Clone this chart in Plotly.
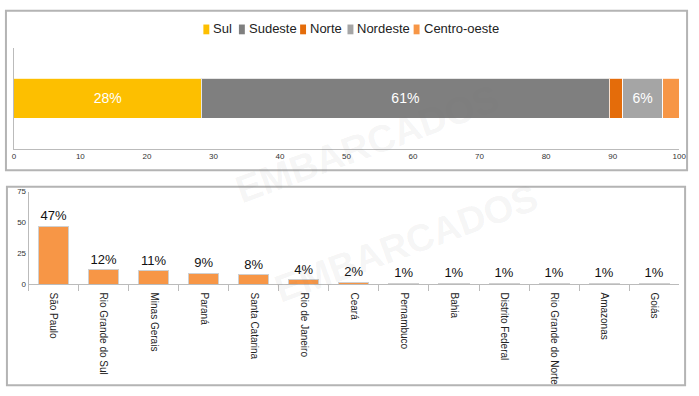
import plotly.graph_objects as go

# ---- data ----
regions = ["Sul", "Sudeste", "Norte", "Nordeste", "Centro-oeste"]
region_values = [28.2, 61.3, 2.0, 6.0, 2.5]
region_colors = ["#FDBF00", "#7F7F7F", "#E46C0A", "#A5A5A5", "#F79646"]

states = ["São Paulo", "Rio Grande do Sul", "Minas Gerais", "Paraná", "Santa Catarina",
          "Rio de Janeiro", "Ceará", "Pernambuco", "Bahia", "Distrito Federal",
          "Rio Grande do Norte", "Amazonas", "Goiás"]
state_values = [47, 12, 11, 9, 8, 4, 2, 1, 1, 1, 1, 1, 1]

x_ticks = list(range(0, 101, 10))
y_ticks = [0, 25, 50, 75]

W, H = 699, 396
def px(x): return x / W
def py(y): return 1 - y / H

FONT = "Liberation Sans, Arial, sans-serif"

# custom compact legend layout (pixel x of each swatch)
legend_x = [204, 240, 302, 350, 417]

fig = go.Figure()

for name, val, col in zip(regions, region_values, region_colors):
    fig.add_trace(go.Bar(
        x=[val], y=["Regiões"], name=name, orientation="h",
        marker=dict(color=col, line=dict(color="rgba(255,255,255,0.8)", width=1)),
        text=[f"{round(val)}%" if val >= 5 else ""],
        textposition="inside", insidetextanchor="middle",
        textfont=dict(color="white", size=14, family=FONT),
        width=0.4, xaxis="x", yaxis="y", showlegend=False,
    ))

fig.add_trace(go.Bar(
    x=states, y=state_values, name="Estados",
    marker=dict(color="#F79646", line=dict(color="#D0D0D0", width=1)),
    text=[f"{v}%" for v in state_values], textposition="outside",
    textfont=dict(color="#111", size=13, family=FONT),
    width=0.6, cliponaxis=False, xaxis="x2", yaxis="y2", showlegend=False,
))

shapes = [
    dict(type="rect", xref="paper", yref="paper", x0=px(4), x1=px(694),
         y0=py(170), y1=py(7), line=dict(color="#B4B4B4", width=2)),
    dict(type="rect", xref="paper", yref="paper", x0=px(5), x1=px(692),
         y0=py(390), y1=py(187), line=dict(color="#B4B4B4", width=2)),
]
annotations = [
    dict(text="<b>EMBARCADOS</b>", xref="paper", yref="paper", x=px(370), y=py(72),
         showarrow=False, textangle=-20, font=dict(size=38, color="rgba(120,120,120,0.08)", family=FONT)),
    dict(text="<b>EMBARCADOS</b>", xref="paper", yref="paper", x=px(410), y=py(245),
         showarrow=False, textangle=-20, font=dict(size=38, color="rgba(120,120,120,0.08)", family=FONT)),
]
for name, col, lx in zip(regions, region_colors, legend_x):
    shapes.append(dict(type="rect", xref="paper", yref="paper", x0=px(lx), x1=px(lx + 6),
                       y0=py(31), y1=py(21), line=dict(width=0), fillcolor=col))
    annotations.append(dict(text=name, xref="paper", yref="paper", x=px(lx + 8), y=py(25.5),
                            xanchor="left", yanchor="middle", showarrow=False,
                            font=dict(size=13, color="#222", family=FONT)))

fig.update_layout(
    width=W, height=H, margin=dict(l=0, r=0, t=0, b=0),
    paper_bgcolor="white", plot_bgcolor="white",
    barmode="stack", font=dict(family=FONT, color="#222"), showlegend=False,
    xaxis=dict(domain=[px(12), px(686)], range=[0, 100], tickvals=x_ticks,
               showgrid=False, zeroline=False, showline=True, linecolor="#BBBBBB",
               linewidth=1, ticks="", tickfont=dict(size=8, color="#333"), anchor="y"),
    yaxis=dict(domain=[py(148), py(45)], range=[-0.5, 0.5], showticklabels=False,
               showgrid=False, zeroline=False, showline=True, linecolor="#BBBBBB",
               linewidth=1, ticks="", anchor="x", type="category"),
    xaxis2=dict(domain=[px(27), px(686)], showgrid=False, zeroline=False,
                showline=True, linecolor="#BBBBBB", linewidth=1,
                ticks="outside", tickson="boundaries", ticklen=6, tickcolor="#BBBBBB",
                ticklabelstandoff=5,
                tickangle=90, tickfont=dict(size=10, color="#222"), anchor="y2"),
    yaxis2=dict(domain=[py(287), py(192)], range=[0, 75], tickvals=y_ticks,
                showgrid=False, zeroline=False, showline=True, linecolor="#BBBBBB",
                linewidth=1, ticks="", tickfont=dict(size=8, color="#333"), anchor="x2"),
    shapes=shapes,
    annotations=annotations,
)

fig.write_html("out.html", config={"displayModeBar": False},
               post_script="document.body.style.margin='0px';")
